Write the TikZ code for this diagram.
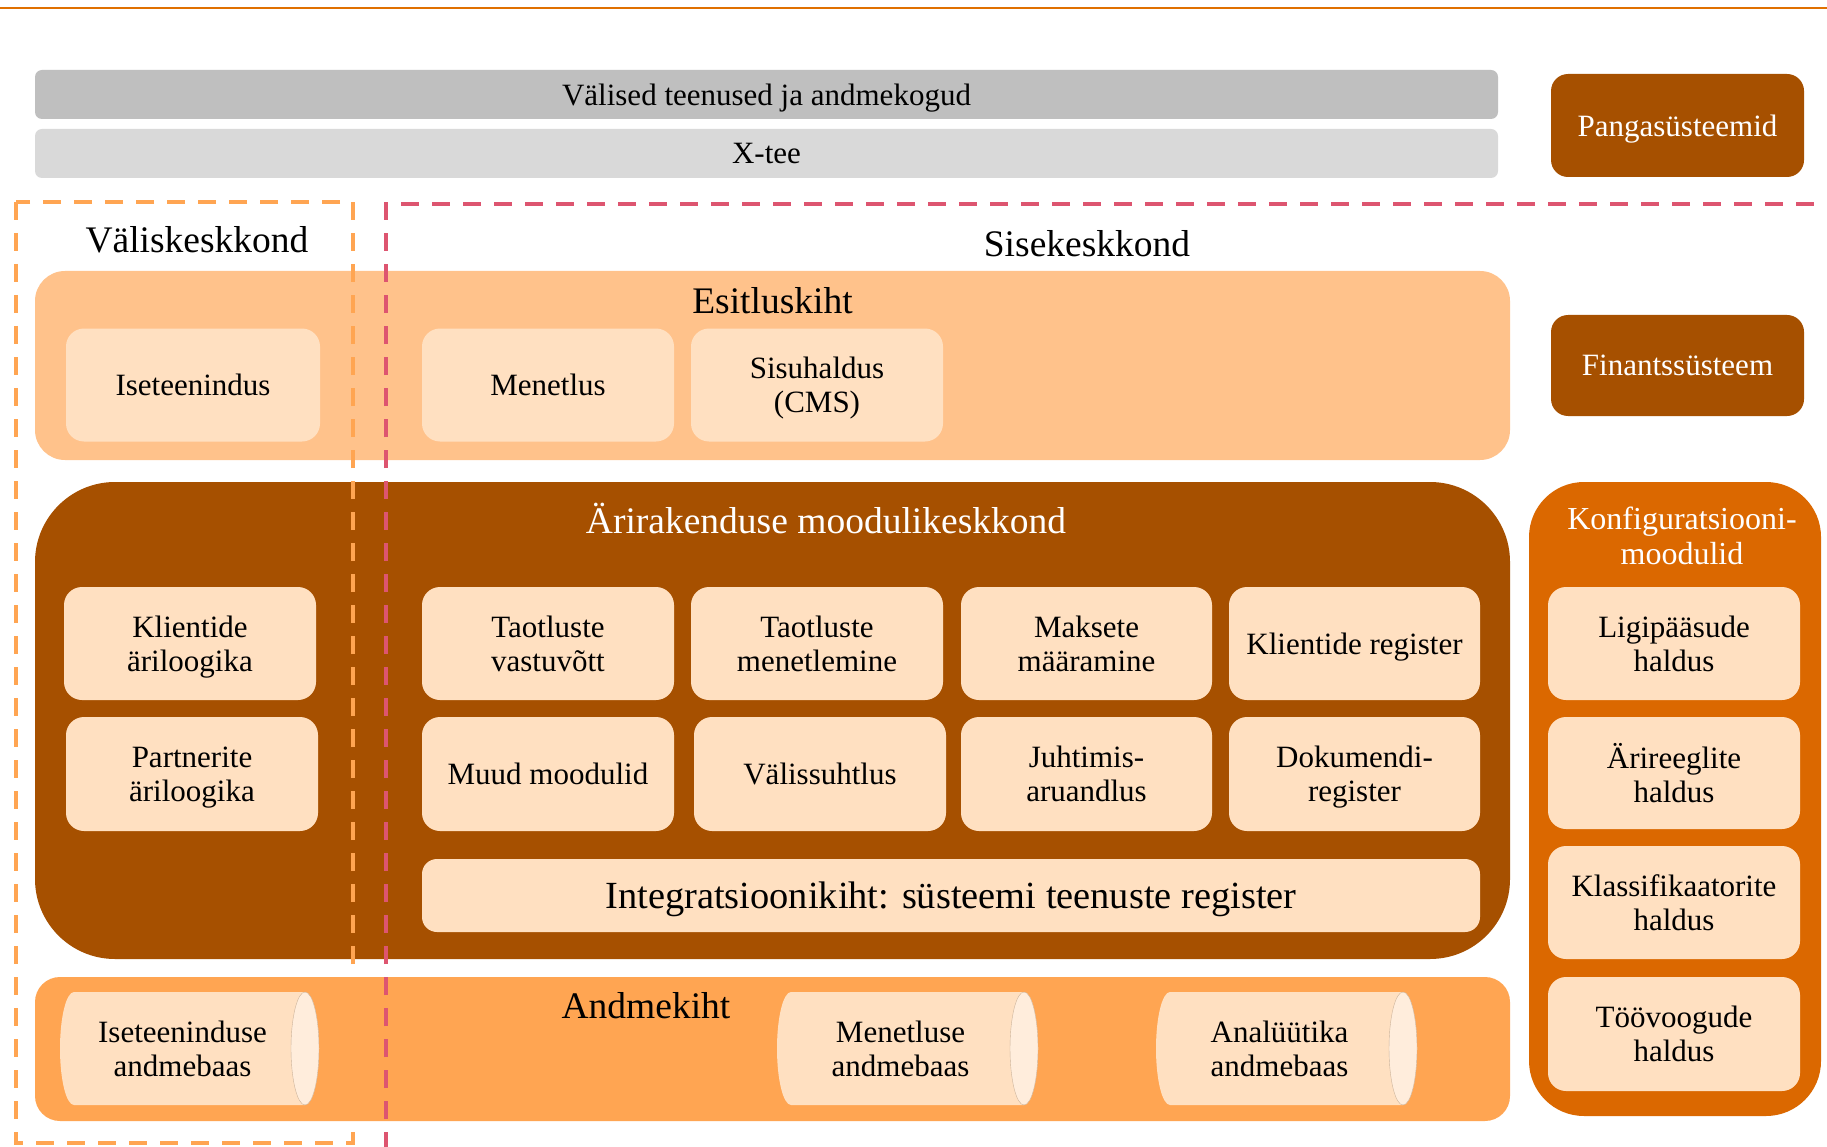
\documentclass[tikz,border=0pt]{standalone}
\usepackage{fontspec}
\setmainfont{Liberation Serif}
\definecolor{cream}{HTML}{FFE0C1}
\definecolor{capface}{HTML}{FFEDDC}
\definecolor{peach}{HTML}{FFC28B}
\definecolor{datalayer}{HTML}{FFA552}
\definecolor{rust}{HTML}{A65000}
\definecolor{cfgorange}{HTML}{DB6800}
\definecolor{greyA}{HTML}{BFBFBF}
\definecolor{greyB}{HTML}{D9D9D9}
\definecolor{redline}{HTML}{DD5570}
\definecolor{rule}{HTML}{E07000}
\begin{document}
\begin{tikzpicture}[x=1pt,y=-1pt,
  every node/.style={inner sep=0pt, align=center, text depth=0pt},
  boxfont/.style={font=\fontsize{31}{34}\selectfont},
  titlefont/.style={font=\fontsize{37.5}{42}\selectfont},
  lbox/.style={boxfont, fill=cream, rounded corners=18pt, minimum height=113pt},
  band/.style={boxfont, rounded corners=7pt, minimum width=1463pt, minimum height=49pt},
  darkbox/.style={boxfont, fill=rust, text=white, rounded corners=17pt, minimum width=253pt},
  layer/.style={minimum width=1475pt},
  envdash/.style={line width=4.5pt, dash pattern=on 18pt off 13pt},
  dbbody/.style={fill=cream},
  dbface/.style={fill=capface, draw=cream!80!black, line width=0.4pt},
]
\useasboundingbox (0,0) rectangle (1827,1147);
\fill[white] (0,0) rectangle (1827,1147);
\draw[rule, line width=1.5pt] (0,8) -- (1827,8);

% external services and X-road
\node[band, fill=greyA] (valised) at (766.5,94.5) {Välised teenused ja andmekogud};
\node[band, fill=greyB] (xtee) at (766.5,153.5) {X-tee};

% systems on the right
\node[darkbox, minimum height=103pt] (pank) at (1677.5,125.5) {Pangasüsteemid};
\node[darkbox, minimum height=101pt] (fin) at (1677.5,365.5) {Finantssüsteem};

% presentation layer
\node[layer, fill=peach, rounded corners=30pt, minimum height=189pt] (esitlus) at (772.5,365.5) {};
\node[titlefont, anchor=base] (esitlusT) at (772.5,313) {Esitluskiht};
\node[lbox, minimum width=254pt] (iset) at (193,385) {Iseteenindus};
\node[lbox, minimum width=252pt] (menetlus) at (548,385) {Menetlus};
\node[lbox, minimum width=252pt] (sisu) at (817,385) {Sisuhaldus\\(CMS)};

% business application modules
\node[layer, fill=rust, rounded corners=80pt, minimum height=477pt] (ari) at (772.5,720.5) {};
\node[titlefont, anchor=base, text=white] (ariT) at (826,533) {Ärirakenduse moodulikeskkond};
\node[lbox, minimum width=252pt] (klari) at (190,643.5) {Klientide\\äriloogika};
\node[lbox, minimum width=252pt] (tvast) at (548,643.5) {Taotluste\\vastuvõtt};
\node[lbox, minimum width=252pt] (tmen) at (817,643.5) {Taotluste\\menetlemine};
\node[lbox, minimum width=251pt] (maks) at (1086.5,643.5) {Maksete\\määramine};
\node[lbox, minimum width=251pt] (klreg) at (1354.5,643.5) {Klientide register};
\node[lbox, minimum width=252pt, minimum height=114pt] (partn) at (192,774) {Partnerite\\äriloogika};
\node[lbox, minimum width=252pt, minimum height=114pt] (muud) at (548,774) {Muud moodulid};
\node[lbox, minimum width=252pt, minimum height=114pt] (valis) at (820,774) {Välissuhtlus};
\node[lbox, minimum width=251pt, minimum height=114pt] (juht) at (1086.5,774) {Juhtimis-\\aruandlus};
\node[lbox, minimum width=251pt, minimum height=114pt] (dok) at (1354.5,774) {Dokumendi-\\register};
\node[lbox, font=\fontsize{38.4}{42}\selectfont, rounded corners=15pt, minimum width=1058pt, minimum height=73pt] (integ) at (951,895.5) {Integratsioonikiht: süsteemi teenuste register};

% data layer
\node[layer, fill=datalayer, rounded corners=25pt, minimum height=144pt] (andme) at (772.5,1049) {};
\node[titlefont, anchor=base] (andmeT) at (646,1018) {Andmekiht};

% databases: body between left and right ellipse centres, lighter end face on the right
\foreach \xl/\xr in {74/305, 791/1024, 1170/1403} {
  \fill[dbbody] (\xl,992) -- (\xr,992)
     arc[start angle=-90, end angle=90, x radius=14, y radius=56.5]
     -- (\xl,1105)
     arc[start angle=90, end angle=270, x radius=14, y radius=56.5] -- cycle;
  \filldraw[dbface] (\xr,1048.5) ellipse[x radius=14, y radius=56.5];
}
\node[boxfont] (db1) at (182.5,1049) {Iseteeninduse\\andmebaas};
\node[boxfont] (db2) at (900.5,1049) {Menetluse\\andmebaas};
\node[boxfont] (db3) at (1279.5,1049) {Analüütika\\andmebaas};

% configuration modules
\node[fill=cfgorange, rounded corners=55pt, minimum width=292pt, minimum height=634pt] (cfg) at (1675,799) {};
\node[boxfont, font=\fontsize{32}{35}\selectfont, text=white] (cfgT) at (1682,535.5) {Konfiguratsiooni-\\moodulid};
\node[lbox, minimum width=252pt] (lig) at (1674,643.5) {Ligipääsude\\haldus};
\node[lbox, minimum width=252pt, minimum height=112pt] (areegl) at (1674,773) {Ärireeglite\\haldus};
\node[lbox, minimum width=252pt] (klass) at (1674,902.5) {Klassifikaatorite\\haldus};
\node[lbox, minimum width=252pt, minimum height=114pt] (toov) at (1674,1034) {Töövoogude\\haldus};

% environment boundaries
\draw[envdash, datalayer] (16,202) rectangle (353,1143);
\draw[envdash, redline] (386,1150) -- (386,204) -- (1830,204);
\node[titlefont, anchor=base] (valisT) at (197,253) {Väliskeskkond};
\node[titlefont, anchor=base] (siseT) at (1087,257) {Sisekeskkond};
\end{tikzpicture}
\end{document}
